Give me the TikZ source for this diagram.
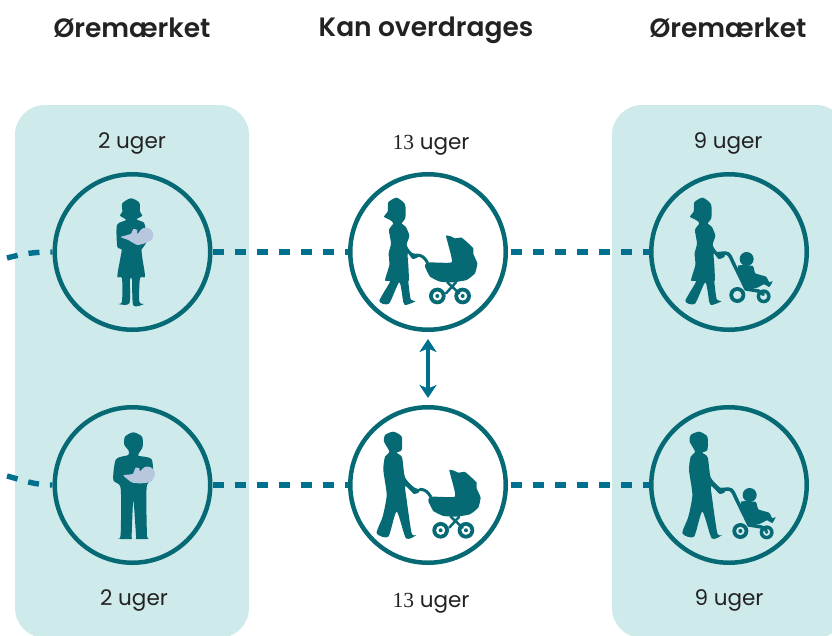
\documentclass[tikz,border=0pt]{standalone}
\usepackage{fontspec}
\setmainfont{Poppins}
\newfontfamily\numfont{Liberation Serif}
\newfontfamily\headfont{Poppins SemiBold}
\usetikzlibrary{arrows.meta}

\definecolor{panelcol}{HTML}{CFEAEB}
\definecolor{ringcol}{HTML}{066A75}
\definecolor{dashcol}{HTML}{00708F}
\definecolor{babycol}{HTML}{B7C8DE}
\definecolor{textcol}{HTML}{222222}

\tikzset{
	panel/.style={fill=panelcol,rounded corners=30pt,minimum width=234pt,minimum height=533pt,inner sep=0pt},
	ring/.style={circle,draw=ringcol,line width=4.5pt,minimum size=155.5pt,inner sep=0pt},
	head/.style={text=textcol,font=\fontsize{26.5}{26.5}\selectfont\headfont},
	weeks/.style={text=textcol,font=\fontsize{21.5}{21.5}\selectfont},
	link/.style={draw=dashcol,line width=5.4pt,dash pattern=on 11pt off 11pt},
	linkgap/.style={link,dash phase=19pt},
	swap/.style={draw=dashcol,line width=4.6pt,{Stealth[length=13pt,width=17pt,inset=3.5pt]}-{Stealth[length=13pt,width=17pt,inset=3.5pt]},shorten >=7pt,shorten <=7pt},
	silh/.style={fill=ringcol,x=.3333pt,y=-.3333pt},
	baby/.style={fill=babycol,x=.3333pt,y=-.3333pt},
	bar/.style={draw=ringcol,line width=3pt,line cap=round,x=.3333pt,y=-.3333pt},
	pics/holdmum/.style={code={
		\fill[silh] plot[smooth cycle,tension=.45] coordinates {(393,115) (418,128) (420,155) (427,167) (410,178) (432,188) (437,210) (438,250) (425,268) (428,300) (435,350) (420,355) (418,425) (432,432) (400,436) (396,360) (390,360) (388,430) (355,432) (366,425) (366,355) (352,350) (360,300) (365,268) (352,260) (351,195) (378,180) (360,167) (367,155) (367,130)};
		\fill[baby] (438,225) circle (22);
		\fill[baby] plot[smooth cycle,tension=.3] coordinates {(362,231) (392,222) (400,207) (412,210) (411,222) (432,208) (444,245) (412,255) (385,240)};
	}},
	pics/holddad/.style={code={
		\fill[silh] plot[smooth cycle,tension=.45] coordinates {(400,97) (426,110) (428,140) (415,163) (418,168) (455,178) (458,235) (440,262) (441,405) (447,416) (410,417) (408,405) (400,300) (395,405) (394,417) (355,416) (362,405) (362,265) (340,240) (348,178) (385,165) (385,150) (373,135) (375,110)};
		\fill[baby] (443,222) circle (22);
		\fill[baby] plot[smooth cycle,tension=.3] coordinates {(370,226) (398,222) (407,203) (418,205) (420,214) (440,200) (450,245) (420,250) (395,247)};
	}},
	pics/walkmum/.style={code={
		\fill[silh] plot[smooth cycle,tension=.4] coordinates {(145,112) (170,98) (195,118) (196,160) (185,175) (197,185) (208,212) (200,240) (215,263) (235,268) (235,276) (218,282) (203,265) (205,300) (207,345) (205,350) (212,402) (226,409) (198,420) (190,412) (178,352) (147,416) (118,408) (150,350) (135,346) (148,300) (146,265) (153,235) (147,195) (160,175) (150,165) (132,155) (143,140)};
	}},
	pics/walkdad/.style={code={
		\fill[silh] plot[smooth cycle,tension=.4] coordinates {(135,105) (160,95) (185,110) (185,150) (170,158) (186,172) (195,232) (222,262) (238,268) (238,276) (222,282) (196,258) (200,300) (215,400) (229,405) (198,415) (170,335) (145,410) (110,400) (128,350) (140,285) (130,210) (135,170) (148,155) (132,125)};
	}},
	pics/pramcar/.style={code={
		\draw[bar] (230,270) to[out=0,in=120] (262,292);
		\fill[silh] plot[smooth cycle,tension=.25] coordinates {(318,212) (332,214) (345,220) (365,218) (385,235) (400,250) (400,267) (412,295) (405,325) (380,345) (340,352) (300,350) (270,335) (255,305) (262,292) (335,292) (325,240)};
		\draw[bar,line width=2.5pt] (322,352) -- (358,385) (348,352) -- (318,385);
		\fill[silh,even odd rule] (292,393) circle (25) circle (14) circle (6);
		\fill[silh,even odd rule] (368,393) circle (25) circle (14) circle (6);
	}},
	pics/buggy/.style={code={
		\draw[bar,line width=3.5pt] (232,266) -- (255,264) to[out=0,in=115] (278,290) -- (318,372) -- (355,378) -- (370,388);
		\fill[silh] (320,282) circle (21);
		\fill[silh] plot[smooth cycle,tension=.3] coordinates {(294,302) (338,303) (346,325) (378,335) (388,352) (398,348) (388,366) (372,358) (352,368) (322,372) (300,335)};
		\fill[silh,even odd rule] (292,390) circle (24) circle (13);
		\fill[silh,even odd rule] (371,394) circle (21) circle (11);
	}},
	pics/buggyhubs/.style={code={
		\fill[silh] (292,390) circle (6);
		\fill[silh] (371,394) circle (5);
	}},
}

\begin{document}
\begin{tikzpicture}[x=1pt,y=-1pt]
	\clip (0,0) rectangle (832,635);
	\useasboundingbox (0,0) rectangle (832,635);

	% panels
	\node[panel] (leftpanel) at (132,371.5) {};
	\node[panel] (rightpanel) at (729,371.5) {};

	% headings
	\node[head] (headleft) at (132,27.5) {Øremærket};
	\node[head] (headmid) at (426,30) {Kan overdrages};
	\node[head] (headright) at (728,27.5) {Øremærket};

	% week labels
	\node[weeks] (weekstl) at (132,143.5) {2 uger};
	\node[weeks] (weekstm) at (431,145.5) {{\numfont 13} uger};
	\node[weeks] (weekstr) at (728,143.5) {9 uger};
	\node[weeks] (weeksbl) at (134,600.5) {2 uger};
	\node[weeks] (weeksbm) at (431,603.5) {{\numfont 13} uger};
	\node[weeks] (weeksbr) at (729,600.5) {9 uger};

	% circles
	\node[ring] (tl) at (132.5,252) {};
	\node[ring] (tm) at (428,252) {};
	\node[ring] (tr) at (729,252) {};
	\node[ring] (bl) at (132.5,485) {};
	\node[ring] (bm) at (428,485) {};
	\node[ring] (br) at (729,485) {};

	% free ends of the curved stubs
	\coordinate (stubtop) at (7,258);
	\coordinate (stubbot) at (7,476);

	% connectors
	\draw[link] (stubtop) to[out=15,in=180] (tl.west);
	\draw[link] (stubbot) to[out=-15,in=180] (bl.west);
	\draw[link] (tl) -- (tm);
	\draw[linkgap] (tm) -- (tr);
	\draw[link] (bl) -- (bm);
	\draw[linkgap] (bm) -- (br);
	\draw[swap] (tm) -- (bm);

	% figures
	\pic at (0,160) {holdmum};
	\pic at (0,400) {holddad};
	\pic at (340,165) {walkmum};
	\pic at (340,165) {pramcar};
	\pic at (340,400) {walkdad};
	\pic at (343.3,399.3) {pramcar};
	\pic at (646,165) {walkmum};
	\pic at (640,165) {buggy};
	\pic at (645.7,400) {walkdad};
	\pic at (643,401) {buggy};
	\pic at (643,401) {buggyhubs};
\end{tikzpicture}
\end{document}
